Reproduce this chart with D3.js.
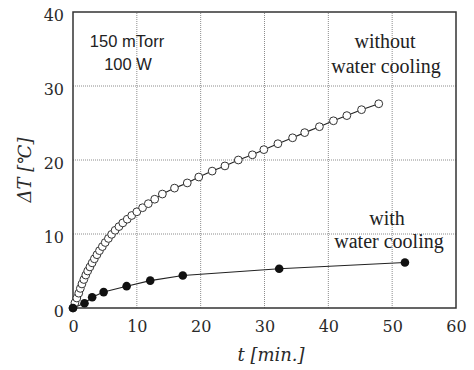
<!DOCTYPE html>
<html>
<head>
<meta charset="utf-8">
<script src="https://cdn.jsdelivr.net/npm/d3@7"></script>
<style>
  html, body { margin: 0; padding: 0; background: #fff; }
  svg { display: block; }
</style>
</head>
<body>
<div id="chart"></div>
<script>
// Temperature rise of the substrate during plasma exposure (150 mTorr, 100 W)
const timeWithout = [0.0, 0.3, 0.6, 0.9, 1.15, 1.4, 1.7, 2.0, 2.3, 2.65, 3.0, 3.35, 3.75, 4.15,
  4.6, 5.05, 5.55, 6.05, 6.6, 7.2, 7.8, 8.5, 9.2, 10.0, 10.9, 11.8, 12.8, 14.0, 15.9, 17.9,
  19.7, 21.8, 23.8, 25.9, 28.1, 29.9, 32.1, 34.4, 36.3, 38.6, 40.8, 42.9, 45.2, 47.9];
const tempWithout = [0.0, 0.7, 1.35, 2.0, 2.65, 3.25, 3.85, 4.45, 5.0, 5.55, 6.1, 6.65, 7.2, 7.75,
  8.3, 8.85, 9.4, 9.95, 10.5, 11.0, 11.5, 12.0, 12.5, 13.0, 13.55, 14.1, 14.7, 15.4, 16.2, 16.9,
  17.7, 18.5, 19.2, 20.0, 20.7, 21.4, 22.2, 23.0, 23.7, 24.5, 25.3, 26.0, 26.8, 27.6];

const timeWith = [0, 1.8, 3.0, 4.8, 8.4, 12.1, 17.2, 32.3, 52.0];
const tempWith = [0, 0.65, 1.45, 2.15, 2.95, 3.7, 4.4, 5.3, 6.15];

const xTicks = [0, 10, 20, 30, 40, 50, 60];
const yTicks = [0, 10, 20, 30, 40];

const W = 474, H = 370;
const margin = { top: 12, right: 18, bottom: 62, left: 73 };

const svg = d3.select("#chart").append("svg")
  .attr("width", W).attr("height", H);

const x = d3.scaleLinear().domain([0, 60]).range([margin.left, W - margin.right]);
const y = d3.scaleLinear().domain([0, 40]).range([H - margin.bottom, margin.top]);

const serif = "'DejaVu Serif', serif";
const textSerif = "'Liberation Serif', 'Times New Roman', serif";
const sans = "'Liberation Sans', Arial, sans-serif";

// Dotted grid
const grid = svg.append("g").attr("stroke", "#8c8c8c").attr("stroke-width", 1)
  .attr("stroke-dasharray", "1,1");
grid.selectAll("line.v").data(xTicks.slice(1, -1)).join("line")
  .attr("x1", d => x(d)).attr("x2", d => x(d))
  .attr("y1", y(0)).attr("y2", y(40));
grid.selectAll("line.h").data(yTicks.slice(1, -1)).join("line")
  .attr("x1", x(0)).attr("x2", x(60))
  .attr("y1", d => y(d)).attr("y2", d => y(d));

// Axes (labels only; the frame is drawn separately)
const xAxis = d3.axisBottom(x).tickValues(xTicks).tickSize(0).tickPadding(13);
const yAxis = d3.axisLeft(y).tickValues(yTicks).tickSize(0).tickPadding(9);

const gx = svg.append("g").attr("transform", `translate(0,${y(0)})`).call(xAxis);
const gy = svg.append("g").attr("transform", `translate(${x(0)},0)`).call(yAxis);
[gx, gy].forEach(g => {
  g.select(".domain").remove();
  g.selectAll("text").attr("font-family", serif).attr("font-size", 16).attr("fill", "#2a2a2a");
});
gy.selectAll("text").attr("dy", "0.5em");

// Frame
svg.append("rect")
  .attr("x", x(0)).attr("y", y(40))
  .attr("width", x(60) - x(0)).attr("height", y(0) - y(40))
  .attr("fill", "none").attr("stroke", "#333").attr("stroke-width", 1.5);

// Series lines
const line = d3.line().x(d => x(d[0])).y(d => y(d[1]));
const ptsWithout = timeWithout.map((t, i) => [t, tempWithout[i]]);
const ptsWith = timeWith.map((t, i) => [t, tempWith[i]]);

svg.append("path").datum(ptsWithout).attr("d", line)
  .attr("fill", "none").attr("stroke", "#222").attr("stroke-width", 1.1);
svg.append("path").datum(ptsWith).attr("d", line)
  .attr("fill", "none").attr("stroke", "#222").attr("stroke-width", 1.1);

svg.append("g").selectAll("circle").data(ptsWithout).join("circle")
  .attr("cx", d => x(d[0])).attr("cy", d => y(d[1])).attr("r", 3.9)
  .attr("fill", "#fff").attr("stroke", "#333").attr("stroke-width", 1);

svg.append("g").selectAll("circle").data(ptsWith).join("circle")
  .attr("cx", d => x(d[0])).attr("cy", d => y(d[1])).attr("r", 4.3)
  .attr("fill", "#111");

// Axis titles
svg.append("text")
  .attr("x", 271).attr("y", 361)
  .attr("text-anchor", "middle")
  .attr("font-family", serif).attr("font-style", "italic").attr("font-size", 18)
  .attr("fill", "#2a2a2a")
  .text("t [min.]");

svg.append("text")
  .attr("transform", "translate(31,170) rotate(-90)")
  .attr("text-anchor", "middle")
  .attr("font-family", serif).attr("font-style", "italic").attr("font-size", 18)
  .attr("fill", "#2a2a2a")
  .text("ΔT [℃]");

// Conditions
const cond = svg.append("g").attr("font-family", sans).attr("font-size", 16.5)
  .attr("fill", "#222").attr("text-anchor", "middle");
cond.append("text").attr("x", 127).attr("y", 47).text("150 mTorr");
cond.append("text").attr("x", 128).attr("y", 70).text("100 W");

// Series annotations
const ann = svg.append("g").attr("font-family", textSerif).attr("font-size", 20)
  .attr("fill", "#222").attr("text-anchor", "middle");
ann.append("text").attr("x", 385).attr("y", 48).text("without");
ann.append("text").attr("x", 386).attr("y", 73).text("water cooling");
ann.append("text").attr("x", 387).attr("y", 225).text("with");
ann.append("text").attr("x", 389).attr("y", 248).text("water cooling");
</script>
</body>
</html>
